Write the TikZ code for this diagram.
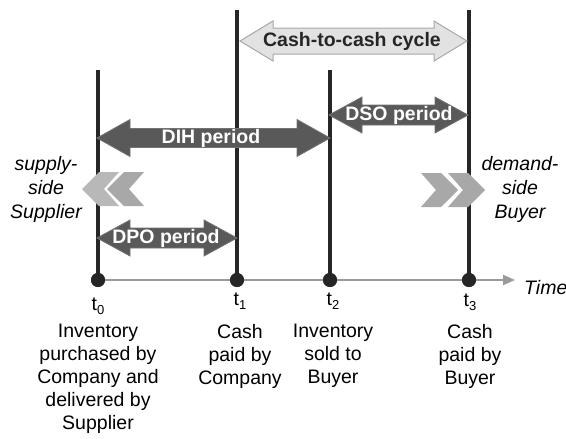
\documentclass[tikz,border=0pt]{standalone}
\usepackage{fontspec}
\setmainfont{Liberation Sans}
\usetikzlibrary{arrows.meta}
\definecolor{linegray}{HTML}{262626}
\definecolor{axisgray}{HTML}{9A9A9A}
\definecolor{arrowdark}{HTML}{595959}
\definecolor{arrowlight}{HTML}{E2E2E2}
\definecolor{arrowborder}{HTML}{A8A8A8}
\definecolor{chevgray}{HTML}{A8A8A8}
\definecolor{chevlight}{HTML}{B8B8B8}
\newcommand\dblarr[6]{% style, x1, x2, yc, shaft half, head half
  \draw[#1] (#2,#4) -- (#2+33,#4-#6) -- (#2+33,#4-#5) -- (#3-33,#4-#5) -- (#3-33,#4-#6) -- (#3,#4)
    -- (#3-33,#4+#6) -- (#3-33,#4+#5) -- (#2+33,#4+#5) -- (#2+33,#4+#6) -- cycle;}
\newcommand\chevL[3]{% style, tip x, yc
  \fill[#1] (#2,#3) -- (#2+17,#3-17) -- (#2+37,#3-17) -- (#2+22,#3) -- (#2+37,#3+17) -- (#2+17,#3+17) -- cycle;}
\newcommand\chevR[3]{% style, tip x, yc
  \fill[#1] (#2,#3) -- (#2-17,#3-17) -- (#2-37,#3-17) -- (#2-22,#3) -- (#2-37,#3+17) -- (#2-17,#3+17) -- cycle;}
\begin{document}
\begin{tikzpicture}[x=1pt,y=-1pt,
  vline/.style={line width=4pt, draw=linegray},
  dot/.style={circle, fill=linegray, minimum size=14pt, inner sep=0pt},
  axisline/.style={line width=2pt, draw=axisgray, -{Triangle[length=12pt,width=10pt]}},
  darkarrow/.style={fill=arrowdark, draw=arrowdark!85!white, line width=0.8pt, line join=miter},
  lightarrow/.style={fill=arrowlight, draw=arrowborder, line width=1pt},
  lbl/.style={font=\fontsize{19.5}{23}\selectfont, align=center, inner sep=0pt},
  sidelbl/.style={font=\itshape\fontsize{19.5}{24}\selectfont, align=center, inner sep=0pt},
  arrowlbl/.style={font=\bfseries\fontsize{19.5}{22}\selectfont, text=white, inner sep=0pt},
  tlbl/.style={font=\fontsize{19.5}{23}\selectfont, inner sep=0pt, anchor=base}]
\useasboundingbox (0,0) rectangle (566,439);

% time axis
\node[dot] (d0) at (98,280) {};
\node[dot] (d1) at (237,280) {};
\node[dot] (d2) at (330,280) {};
\node[dot] (d3) at (469,280) {};
\coordinate (axend) at (515,280);
\draw[axisline] (d0.center) -- (axend);

% vertical lines
\coordinate (top0) at (98,70);
\coordinate (top1) at (237,10);
\coordinate (top2) at (330,70);
\coordinate (top3) at (469,10);
\draw[vline] (top0) -- (d0.center);
\draw[vline] (top1) -- (d1.center);
\draw[vline] (top2) -- (d2.center);
\draw[vline] (top3) -- (d3.center);
\node[dot] at (d0) {};
\node[dot] at (d1) {};
\node[dot] at (d2) {};
\node[dot] at (d3) {};

% period arrows
\dblarr{lightarrow}{240}{467}{41}{13}{20}
\node[font=\bfseries\fontsize{19.5}{22}\selectfont, text=linegray, inner sep=0pt] (c2c) at (352,41) {Cash-to-cash cycle};

\dblarr{darkarrow}{329}{468}{115}{10}{18}
\node[arrowlbl] (dso) at (399,115) {DSO period};

\dblarr{darkarrow}{97}{330}{138}{9.5}{18.5}
\node[arrowlbl] (dih) at (211,138) {DIH period};

\dblarr{darkarrow}{97}{237}{238}{10}{18}
\node[arrowlbl] (dpo) at (166,238) {DPO period};

% chevrons
\chevL{chevlight}{82}{189}
\chevL{chevgray}{107}{189}
\chevR{chevgray}{458}{190}
\chevR{chevgray}{485}{190}

% side labels
\node[sidelbl] (supply) at (46,189) {supply-\\side\\Supplier};
\node[sidelbl] (demand) at (520,189) {demand-\\side\\Buyer};
\node[font=\itshape\fontsize{19.5}{23}\selectfont, inner sep=0pt, anchor=west] (time) at (524,288) {Time};

% t labels
\node[tlbl] (t0) at (98,310) {t\raisebox{-4pt}{\fontsize{13}{13}\selectfont 0}};
\node[tlbl] (t1) at (240,305) {t\raisebox{-4pt}{\fontsize{13}{13}\selectfont 1}};
\node[tlbl] (t2) at (333,305) {t\raisebox{-4pt}{\fontsize{13}{13}\selectfont 2}};
\node[tlbl] (t3) at (470,306) {t\raisebox{-4pt}{\fontsize{13}{13}\selectfont 3}};

% descriptions
\node[lbl, anchor=north] (e0) at (98,324) {Inventory\\purchased by\\Company and\\delivered by\\Supplier};
\node[lbl, anchor=north] (e1) at (240,324) {Cash\\paid by\\Company};
\node[lbl, anchor=north] (e2) at (333,324) {Inventory\\sold to\\Buyer};
\node[lbl, anchor=north] (e3) at (470,324) {Cash\\paid by\\Buyer};
\end{tikzpicture}
\end{document}
